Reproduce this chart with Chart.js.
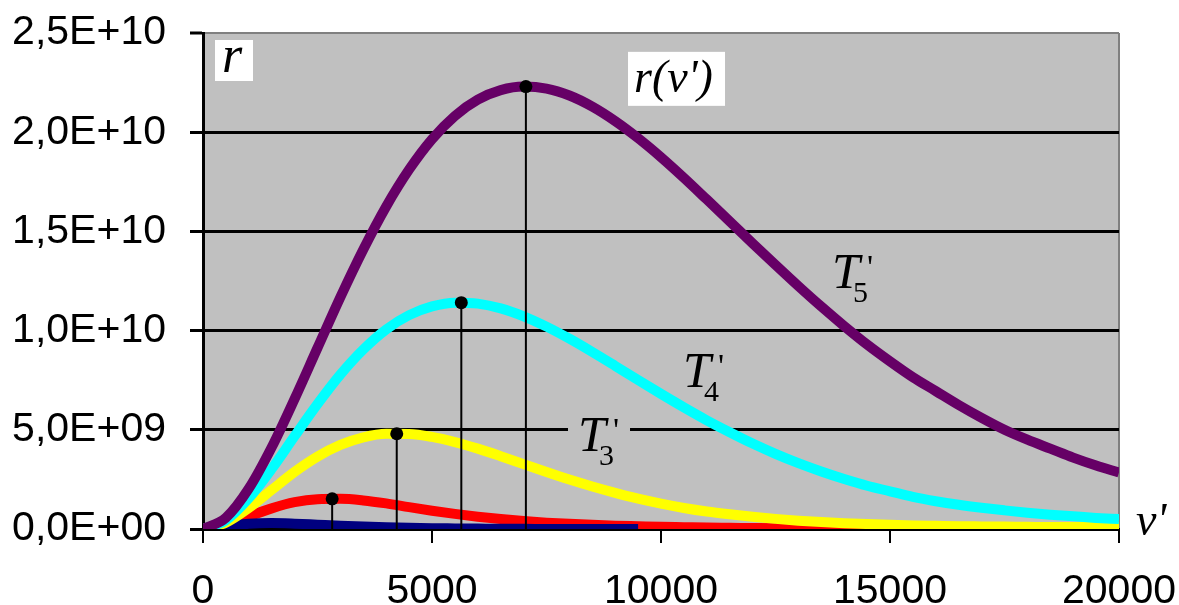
<!DOCTYPE html>
<html>
<head>
<meta charset="utf-8">
<script src="https://cdn.jsdelivr.net/npm/chart.js@4.4.1/dist/chart.umd.min.js"></script>
<style>
  html, body { margin: 0; padding: 0; background: #fff; }
  canvas { display: block; }
</style>
</head>
<body>
<canvas id="planck" width="1179" height="605"></canvas>
<script>
// frequency nu' (x axis)
const nu = [0, 500, 1000, 1500, 2000, 2500, 3000, 3500, 4000, 4500, 5000, 5500, 6000, 6500, 7000, 7500, 8000, 8500, 9000, 9500,
            10000, 10500, 11000, 11500, 12000, 12500, 13000, 13500, 14000, 14500, 15000, 15500, 16000, 16500, 17000, 17500,
            18000, 18500, 19000, 19500, 20000];

// r(nu') in units of 1E+09
const rT5 = [0, 0.57, 2.04, 4.12, 6.56, 9.13, 11.69, 14.09, 16.26, 18.12, 19.65, 20.82, 21.64, 22.12, 22.30, 22.20, 21.85, 21.29, 20.56, 19.70,
             18.74, 17.70, 16.61, 15.51, 14.40, 13.31, 12.24, 11.21, 10.23, 9.30, 8.45, 7.65, 6.95, 6.25, 5.60, 5.00,
             4.50, 4.05, 3.60, 3.20, 2.85];
const rT4 = [0, 0.44, 1.55, 3.03, 4.68, 6.30, 7.79, 9.05, 10.06, 10.78, 11.22, 11.41, 11.36, 11.12, 10.72, 10.20, 9.59, 8.92, 8.22, 7.51,
             6.81, 6.13, 5.48, 4.88, 4.31, 3.79, 3.32, 2.90, 2.52, 2.18, 1.90, 1.62, 1.40, 1.22, 1.07, 0.94,
             0.82, 0.72, 0.64, 0.56, 0.50];
const rT3 = [0, 0.32, 1.06, 1.97, 2.88, 3.65, 4.24, 4.62, 4.80, 4.79, 4.64, 4.38, 4.05, 3.67, 3.27, 2.87, 2.49, 2.14, 1.82, 1.53,
             1.28, 1.06, 0.88, 0.74, 0.62, 0.51, 0.42, 0.35, 0.29, 0.25, 0.21, 0.18, 0.16, 0.14, 0.13, 0.12,
             0.11, 0.10, 0.10, 0.10, 0.10];
const rT2 = [0, 0.21, 0.63, 1.04, 1.35, 1.50, 1.52, 1.44, 1.29, 1.10, 0.92, 0.76, 0.62, 0.50, 0.40, 0.32, 0.26, 0.21, 0.17, 0.14,
             0.11, 0.09, 0.07, 0.06, 0.05, 0.04, 0.04, 0.03, 0.03, 0.03, 0.02, 0.02, 0.02, 0.02];
const rT1 = [0, 0.12, 0.26, 0.30, 0.27, 0.22, 0.17, 0.13, 0.09, 0.06, 0.04, 0.03, 0.02, 0.01, 0.01, 0, 0, 0, 0, 0];

// maxima of the curves (nu', r in 1E+09)
const peakNu = [2820, 4230, 5640, 7050];
const peakR = [1.52, 4.80, 11.41, 22.30];

const yTicks = [0, 5, 10, 15, 20, 25];
const xTicks = [0, 5000, 10000, 15000, 20000];

const E9 = 1e9;
const pts = (vals) => vals.map((v, i) => ({ x: nu[i], y: v * E9 }));

function sciLabel(v) {
  if (v === 0) return '0,0E+00';
  const e = Math.floor(Math.log10(v) + 1e-9);
  const m = v / Math.pow(10, e);
  return m.toFixed(1).replace('.', ',') + 'E+' + String(e).padStart(2, '0');
}

const serif = '"Liberation Serif", "Times New Roman", serif';

// text marks placed in data units
const notes = [
  { sub: '5', nu: 13734, r: 12.17 },
  { sub: '4', nu: 10480, r: 7.14 },
  { sub: '3', nu: 8188, r: 3.92, patch: true },
];

const plotBg = {
  id: 'plotBg',
  beforeDraw(chart) {
    const { ctx, chartArea: a } = chart;
    ctx.save();
    ctx.fillStyle = '#c0c0c0';
    ctx.fillRect(a.left, a.top, a.right - a.left, a.bottom - a.top);
    ctx.restore();
  }
};

const textMarks = {
  id: 'textMarks',
  afterDatasetsDraw(chart) {
    const { ctx, chartArea: a } = chart;
    const xs = chart.scales.x, ys = chart.scales.y;
    ctx.save();
    ctx.textBaseline = 'alphabetic';
    ctx.textAlign = 'left';

    // r in the corner
    ctx.fillStyle = '#fff';
    ctx.fillRect(a.left + 12, a.top + 7, 38, 41);
    ctx.fillStyle = '#000';
    ctx.font = 'italic 52px ' + serif;
    ctx.fillText('r', a.left + 19, a.top + 39);

    // r(nu') label
    const lx = xs.getPixelForValue(9280), ly = ys.getPixelForValue(24.05 * E9);
    ctx.fillStyle = '#fff';
    ctx.fillRect(lx, ly, 97, 54);
    ctx.fillStyle = '#000';
    ctx.font = 'italic 46px ' + serif;
    ctx.fillText('r(\u03bd\')', lx + 6, ly + 40);

    // T' labels
    notes.forEach(n => {
      const x = xs.getPixelForValue(n.nu), y = ys.getPixelForValue(n.r * E9);
      if (n.patch) {
        ctx.fillStyle = '#c0c0c0';
        ctx.fillRect(x - 10, y - 34, 62, 50);
      }
      ctx.fillStyle = '#000';
      ctx.font = 'italic 50px ' + serif;
      ctx.fillText('T', x, y);
      ctx.font = '30px ' + serif;
      ctx.fillText(n.sub, x + 21, y + 14);
      ctx.font = '34px ' + serif;
      ctx.fillText('\'', x + 35, y - 10);
    });

    // nu' at the end of the axis
    ctx.font = 'italic 46px ' + serif;
    ctx.fillText('\u03bd\'', a.right + 17, a.bottom + 6);
    ctx.restore();
  }
};

const stems = peakNu.map((p, i) => ({
  data: [{ x: p, y: 0 }, { x: p, y: peakR[i] * E9 }],
  borderColor: '#000',
  borderWidth: 2,
  pointRadius: [0, 6.5],
  pointBackgroundColor: '#000',
  pointBorderWidth: 0,
  clip: false
}));

const curve = (vals, color) => ({
  data: pts(vals),
  borderColor: color,
  borderWidth: 10,
  pointRadius: 0,
  cubicInterpolationMode: 'monotone',
  fill: false
});

new Chart(document.getElementById('planck'), {
  type: 'line',
  data: {
    datasets: [
      ...stems,
      curve(rT5, '#660066'),
      curve(rT4, '#00ffff'),
      curve(rT3, '#ffff00'),
      curve(rT1, '#000080'),
      curve(rT2, '#ff0000')
    ]
  },
  options: {
    responsive: false,
    animation: false,
    devicePixelRatio: 1,
    layout: { padding: { top: 33, right: 60, left: 0, bottom: 0 } },
    plugins: { legend: { display: false }, tooltip: { enabled: false } },
    scales: {
      x: {
        type: 'linear',
        min: 0,
        max: 20000,
        afterBuildTicks: (s) => { s.ticks = xTicks.map(v => ({ value: v })); },
        afterFit: (s) => { s.height = 76; s.paddingLeft = 0; s.paddingRight = 0; },
        ticks: {
          callback: (v) => String(v),
          font: { family: '"Liberation Sans", Arial, sans-serif', size: 41 },
          color: '#000',
          padding: 24,
          maxRotation: 0
        },
        grid: {
          color: (c) => (c.tick && c.tick.value === 20000 ? '#808080' : 'rgba(0,0,0,0)'),
          lineWidth: 2,
          tickColor: '#000',
          tickWidth: 2,
          tickLength: 14
        },
        border: { color: '#000', width: 3 }
      },
      y: {
        min: 0,
        max: 25 * E9,
        afterBuildTicks: (s) => { s.ticks = yTicks.map(v => ({ value: v * E9 })); },
        afterFit: (s) => { s.width = 203; s.paddingTop = 0; s.paddingBottom = 0; },
        ticks: {
          callback: (v) => sciLabel(v),
          font: { family: '"Liberation Sans", Arial, sans-serif', size: 41 },
          color: '#000',
          padding: 24
        },
        grid: {
          color: (c) => (c.tick && c.tick.value >= 25 * E9 ? '#808080' : '#000'),
          lineWidth: (c) => (c.tick && c.tick.value >= 25 * E9 ? 2 : 3),
          tickColor: '#000',
          tickWidth: 3,
          tickLength: 13
        },
        border: { color: '#000', width: 3 }
      }
    }
  },
  plugins: [plotBg, textMarks]
});
</script>
</body>
</html>
